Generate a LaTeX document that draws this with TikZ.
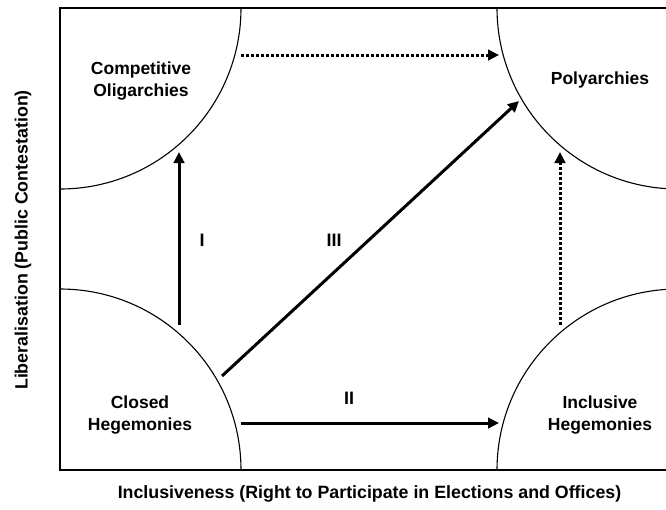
\documentclass[tikz,border=0pt]{standalone}
\usepackage{fontspec}
\setmainfont{Liberation Sans}
\usetikzlibrary{arrows.meta,positioning,calc}

\begin{document}
\begin{tikzpicture}[x=1pt,y=-1pt,
region/.style={font=\bfseries\fontsize{17.5}{22}\selectfont,align=center},
axislabel/.style={font=\bfseries\fontsize{17.8}{20}\selectfont},
pathlabel/.style={font=\bfseries\fontsize{18}{20}\selectfont},
quarter/.style={line width=1.1pt},
arr/.style={-{Triangle[length=11pt,width=10.5pt]},line width=3pt},
dotarr/.style={arr,dash pattern=on 3pt off 2pt}
]
\useasboundingbox (0,0) rectangle (666,509);
% frame and the four quarter circles
\begin{scope}
\clip (60,8) rectangle (678,470);
\draw[quarter] (60,8) circle[radius=181];
\draw[quarter] (678,8) circle[radius=181];
\draw[quarter] (60,470) circle[radius=181];
\draw[quarter] (678,470) circle[radius=181];
\end{scope}
\draw[line width=1.5pt] (678,8) -- (60,8) -- (60,470) -- (678,470);
% regime types
\node[region] (co) at (141,81) {Competitive\\Oligarchies};
\node[region] (pa) at (600,80) {Polyarchies};
\node[region] (ch) at (140,415) {Closed\\Hegemonies};
\node[region] (ih) at (600,415) {Inclusive\\Hegemonies};
% axes
\node[axislabel,rotate=90] (ylab) at (23,240) {Liberalisation (Public Contestation)};
\node[axislabel] (xlab) at (369.5,494) {Inclusiveness (Right to Participate in Elections and Offices)};
% arrow ends on the arcs
\coordinate (chN) at (179,325);
\coordinate (coS) at (179,152);
\coordinate (chE) at (241,423);
\coordinate (ihW) at (499,423);
\coordinate (chNE) at (222,376);
\coordinate (paSW) at (519,101);
\coordinate (coE) at (241,55);
\coordinate (paW) at (499,55);
\coordinate (ihN) at (560,325);
\coordinate (paS) at (560,152);
% paths
\draw[arr] (chN) -- (coS);
\draw[arr] (chE) -- (ihW);
\draw[arr] (chNE) -- (paSW);
\draw[dotarr] (coE) -- (paW);
\draw[dotarr] (ihN) -- (paS);
\node[pathlabel] (lI) at (202,240) {I};
\node[pathlabel] (lII) at (349,398) {II};
\node[pathlabel] (lIII) at (334,240) {III};
\end{tikzpicture}
\end{document}
